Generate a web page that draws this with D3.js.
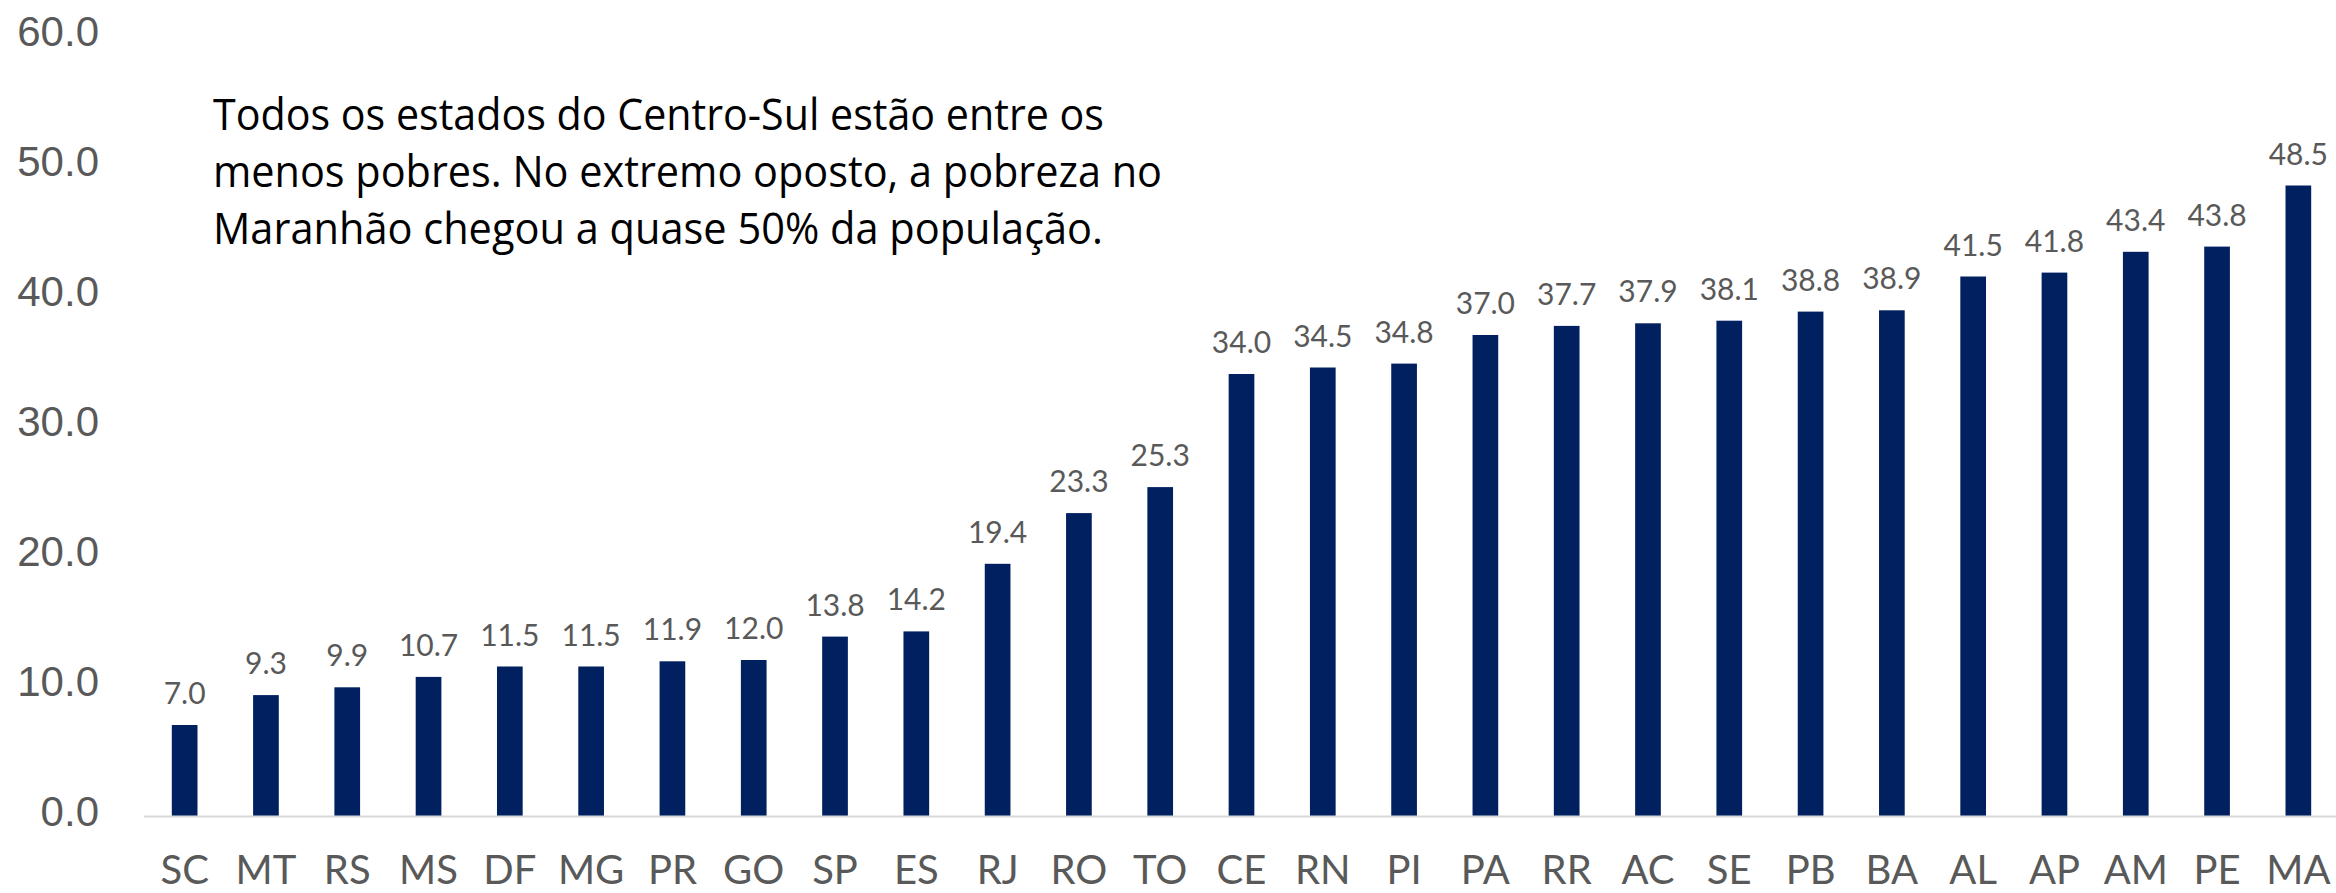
<!DOCTYPE html>
<html lang="pt">
<head>
<meta charset="utf-8">
<title>Pobreza por estado</title>
<script src="https://cdn.jsdelivr.net/npm/d3@7"></script>
<style>
	body { margin: 0; background: #fff; }
	svg { display: block; }
</style>
</head>
<body>
<div id="chart"></div>
<script>
// estados ordenados do menos ao mais pobre
var states = ["SC","MT","RS","MS","DF","MG","PR","GO","SP","ES","RJ","RO","TO","CE","RN","PI","PA","RR","AC","SE","PB","BA","AL","AP","AM","PE","MA"]
var poverty = [7.0,9.3,9.9,10.7,11.5,11.5,11.9,12.0,13.8,14.2,19.4,23.3,25.3,34.0,34.5,34.8,37.0,37.7,37.9,38.1,38.8,38.9,41.5,41.8,43.4,43.8,48.5]
var yTicks = [0,10,20,30,40,50,60]
var noteLines = [
	"Todos os estados do Centro-Sul estão entre os",
	"menos pobres. No extremo oposto, a pobreza no",
	"Maranhão chegou a quase 50% da população."
]
var noteWidths = [891, 949, 890]

var W = 2336, H = 893
var grey = "#595959"

var svg = d3.select("#chart").append("svg")
	.attr("width", W).attr("height", H)

var x = d3.scaleBand().domain(states).range([144, 2339]).paddingInner(0.684).paddingOuter(0.342)
var y = d3.scaleLinear().domain([0, 60]).range([816, 36])

// y axis labels (no line)
var yAxis = svg.append("g").attr("transform", "translate(99,0)")
	.call(d3.axisLeft(y).tickValues(yTicks).tickFormat(d3.format(".1f")).tickSize(0).tickPadding(0))
yAxis.select(".domain").remove()
yAxis.selectAll("text")
	.attr("dy", "0.32em")
	.attr("transform", "translate(0,-4)")
	.style("font-family", "'Liberation Sans', Arial, sans-serif")
	.style("font-size", "42px")
	.style("fill", grey)

// bars
svg.append("g").selectAll("rect")
	.data(poverty)
	.enter().append("rect")
	.attr("x", function(d,i) { return x(states[i]) })
	.attr("width", x.bandwidth())
	.attr("y", function(d) { return y(d) })
	.attr("height", function(d) { return y(0) - y(d) })
	.style("fill", "#002060")

// baseline
svg.append("line")
	.attr("x1", 144).attr("x2", W)
	.attr("y1", y(0) + 0.5).attr("y2", y(0) + 0.5)
	.style("stroke", "#d9d9d9").style("stroke-width", 2)

// value labels
svg.append("g").selectAll("text")
	.data(poverty)
	.enter().append("text")
	.attr("x", function(d,i) { return x(states[i]) + x.bandwidth()/2 })
	.attr("y", function(d) { return y(d) - 21 })
	.attr("text-anchor", "middle")
	.style("font-family", "Lato, sans-serif")
	.style("font-size", "30px")
	.style("fill", grey)
	.text(function(d) { return d.toFixed(1) })

// x axis category labels
var xAxis = svg.append("g").attr("transform", "translate(0,884)")
	.call(d3.axisBottom(x).tickSize(0).tickPadding(0))
xAxis.select(".domain").remove()
xAxis.selectAll("text")
	.attr("dy", 0)
	.style("font-family", "Lato, sans-serif")
	.style("font-size", "40px")
	.style("fill", grey)

// annotation
svg.append("g").selectAll("text")
	.data(noteLines)
	.enter().append("text")
	.attr("x", 213)
	.attr("y", function(d,i) { return 130 + i*57 })
	.attr("textLength", function(d,i) { return noteWidths[i] })
	.attr("lengthAdjust", "spacingAndGlyphs")
	.style("font-family", "'Open Sans', sans-serif")
	.style("font-size", "43px")
	.style("fill", "#000")
	.text(function(d) { return d })
</script>
</body>
</html>
